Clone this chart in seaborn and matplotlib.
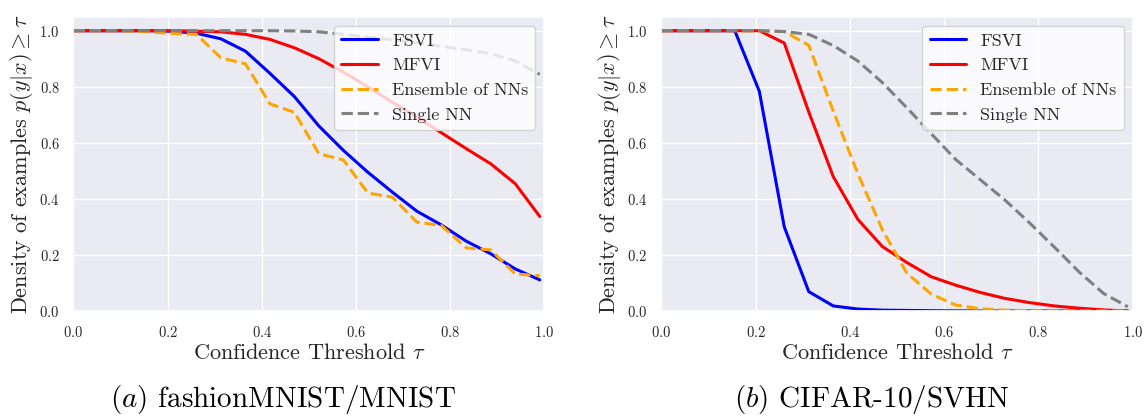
import matplotlib
matplotlib.use("Agg")
import matplotlib.pyplot as plt
import seaborn as sns
import pandas as pd

# Confidence thresholds at which the densities were evaluated
tau = [0.0, 0.052, 0.104, 0.156, 0.208, 0.261, 0.313, 0.365, 0.417, 0.469,
       0.521, 0.573, 0.625, 0.677, 0.729, 0.781, 0.834, 0.886, 0.938, 0.99]

# (a) fashionMNIST / MNIST
fmnist_fsvi = [1.0, 1.0, 1.0, 1.0, 0.998, 0.991, 0.971, 0.927, 0.848, 0.765,
               0.66, 0.573, 0.495, 0.424, 0.356, 0.307, 0.249, 0.204, 0.15, 0.111]
fmnist_mfvi = [1.0, 1.0, 1.0, 1.0, 1.0, 0.998, 0.996, 0.987, 0.969, 0.939,
               0.9, 0.852, 0.8, 0.745, 0.692, 0.636, 0.579, 0.525, 0.454, 0.337]
fmnist_ensemble = [1.0, 1.0, 1.0, 0.996, 0.99, 0.987, 0.903, 0.882, 0.739, 0.709,
                   0.561, 0.539, 0.421, 0.406, 0.317, 0.305, 0.225, 0.218, 0.132, 0.126]
fmnist_single = [1.0, 1.0, 1.0, 1.0, 1.0, 1.0, 1.0, 1.0, 1.0, 0.999,
                 0.996, 0.987, 0.977, 0.968, 0.958, 0.944, 0.932, 0.918, 0.892, 0.844]

# (b) CIFAR-10 / SVHN
cifar_fsvi = [1.0, 1.0, 1.0, 1.0, 0.784, 0.3, 0.069, 0.018, 0.007, 0.003,
              0.002, 0.001, 0.0005, 0.0, 0.0, 0.0, 0.0, 0.0, 0.0, 0.0]
cifar_mfvi = [1.0, 1.0, 1.0, 1.0, 1.0, 0.956, 0.71, 0.479, 0.327, 0.23,
              0.173, 0.122, 0.092, 0.066, 0.045, 0.03, 0.018, 0.01, 0.004, 0.0]
cifar_ensemble = [1.0, 1.0, 1.0, 1.0, 1.0, 0.997, 0.948, 0.713, 0.49, 0.29,
                  0.135, 0.06, 0.021, 0.008, 0.003, 0.001, 0.0, 0.0, 0.0, 0.0]
cifar_single = [1.0, 1.0, 1.0, 1.0, 1.0, 0.997, 0.987, 0.947, 0.892, 0.815,
                0.725, 0.632, 0.54, 0.468, 0.396, 0.315, 0.228, 0.14, 0.063, 0.015]

methods = ["FSVI", "MFVI", "Ensemble of NNs", "Single NN"]
colors = {"FSVI": "blue", "MFVI": "red", "Ensemble of NNs": "orange", "Single NN": "grey"}
styles = {"FSVI": "-", "MFVI": "-", "Ensemble of NNs": "--", "Single NN": "--"}

panels = [
    ("$(a)$ fashionMNIST/MNIST",
     {"FSVI": fmnist_fsvi, "MFVI": fmnist_mfvi,
      "Ensemble of NNs": fmnist_ensemble, "Single NN": fmnist_single}),
    ("$(b)$ CIFAR-10/SVHN",
     {"FSVI": cifar_fsvi, "MFVI": cifar_mfvi,
      "Ensemble of NNs": cifar_ensemble, "Single NN": cifar_single}),
]

sns.set_theme(style="darkgrid")
plt.rcParams["font.family"] = ["cmr10", "DejaVu Serif"]
plt.rcParams["mathtext.fontset"] = "cm"
plt.rcParams["axes.formatter.use_mathtext"] = True
plt.rcParams["axes.unicode_minus"] = False

fig = plt.figure(figsize=(11.48, 4.17), dpi=100)
axes = [fig.add_axes([0.064, 0.2542, 0.4103, 0.7058]),
        fig.add_axes([0.576, 0.2542, 0.4106, 0.7058])]
caption_x = [283 / 1148, 872 / 1148]

for ax, (caption, series), cx in zip(axes, panels, caption_x):
    for m in methods:
        df = pd.DataFrame({"tau": tau, "density": series[m]})
        sns.lineplot(data=df, x="tau", y="density", ax=ax, color=colors[m],
                     linestyle=styles[m], linewidth=2.2, label=m)
    ax.set_xlim(0, 1.0)
    ax.set_ylim(0, 1.05)
    ax.set_xticks([0.0, 0.2, 0.4, 0.6, 0.8, 1.0])
    ax.set_yticks([0.0, 0.2, 0.4, 0.6, 0.8, 1.0])
    ax.tick_params(axis="both", labelsize=10.5, pad=4)
    ax.set_xlabel(r"Confidence Threshold $\tau$", fontsize=16, labelpad=2)
    ax.set_ylabel(r"Density of examples $p(y|x) \geq \tau$", fontsize=16, labelpad=3)
    handles, labels = ax.get_legend_handles_labels()
    ax.legend(handles, labels, loc="upper right", fontsize=13, frameon=True,
              facecolor="white", framealpha=0.8, edgecolor="0.8", fancybox=True)
    fig.text(cx, 1 - 400 / 417, caption, ha="center", va="center",
             fontsize=21, color="black")

fig.savefig("out.png", dpi=100)
